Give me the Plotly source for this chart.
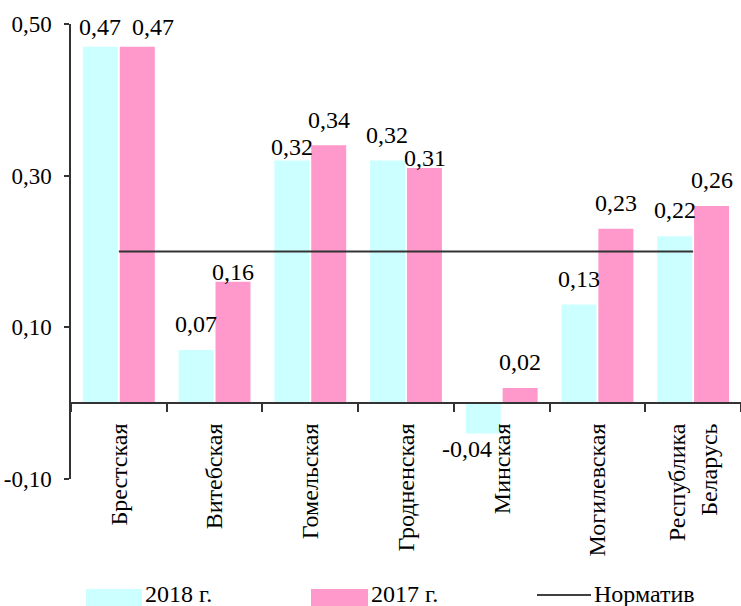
import plotly.graph_objects as go

# ---- data ----
categories = ["Брестская", "Витебская", "Гомельская", "Гродненская",
              "Минская", "Могилевская", "Республика<br>Беларусь"]
values_2018 = [0.47, 0.07, 0.32, 0.32, -0.04, 0.13, 0.22]
values_2017 = [0.47, 0.16, 0.34, 0.31, 0.02, 0.23, 0.26]
norm_values = [0.20, 0.20, 0.20, 0.20, 0.20, 0.20, 0.20]
y_tick_values = [-0.10, 0.10, 0.30, 0.50]
y_tick_labels = ["-0,10", "0,10", "0,30", "0,50"]
series_names = ["2018 г.", "2017 г.", "Норматив"]

# ---- style ----
W, H = 741, 606
ML, MR, MT, MB = 71, 0, 24, 127
FONT = "Liberation Serif"
C18 = "#CCFFFF"
C17 = "#FF99CC"
CLINE = "#333333"
FS = 24

# label placement nudges (pixels): vertical distance of label centre from bar end,
# horizontal nudge from bar centre
label_dy_2018 = [22, 28, 16, 28, -13, 28, 28]
label_dy_2017 = [22, 12, 27, 12, 28, 28, 28]
label_dx_2018 = [0, 0, 0, 0, -16, 0, 0]
label_dx_2017 = [16, 0, 0, 0, 0, 0, 0]


def fmt(v):
    return f"{v:.2f}".replace(".", ",")


def px_x(p):
    return (p - ML) / (W - ML - MR)


def px_y(p):
    return (H - MB - p) / (H - MT - MB)


fig = go.Figure()
fig.add_trace(go.Bar(x=categories, y=values_2018, name=series_names[0],
                     marker=dict(color=C18, line=dict(width=0))))
fig.add_trace(go.Bar(x=categories, y=values_2017, name=series_names[1],
                     marker=dict(color=C17, line=dict(width=0))))
fig.add_trace(go.Scatter(x=categories, y=norm_values, name=series_names[2],
                         mode="lines", line=dict(color=CLINE, width=2.2)))

annotations = []
slot_off = 18.6
for vals, sgn, dys, dxs in ((values_2018, -1, label_dy_2018, label_dx_2018),
                            (values_2017, 1, label_dy_2017, label_dx_2017)):
    for c, v, dy, dx in zip(categories, vals, dys, dxs):
        annotations.append(dict(x=c, y=v, text=fmt(v), showarrow=False,
                                xshift=sgn * slot_off + dx, yshift=dy - 2,
                                yanchor="middle", xanchor="center",
                                font=dict(family=FONT, size=FS, color="black")))

# custom legend
shapes = []
leg_y = 595
items = [(86, 142, C18, "rect", series_names[0]),
         (311, 368, C17, "rect", series_names[1]),
         (537, 591, CLINE, "line", series_names[2])]
for x0, x1, col, kind, name in items:
    if kind == "rect":
        shapes.append(dict(type="rect", xref="paper", yref="paper",
                           x0=px_x(x0), x1=px_x(x1),
                           y0=px_y(589), y1=px_y(607),
                           fillcolor=col, line=dict(width=0), layer="above"))
    else:
        shapes.append(dict(type="line", xref="paper", yref="paper",
                           x0=px_x(x0), x1=px_x(x1),
                           y0=px_y(leg_y), y1=px_y(leg_y),
                           line=dict(color="black", width=1.5)))
    annotations.append(dict(xref="paper", yref="paper", x=px_x(x1 + 1),
                            y=px_y(leg_y - 1), text=name, showarrow=False,
                            xanchor="left", yanchor="middle",
                            font=dict(family=FONT, size=FS, color="black")))

fig.update_layout(
    width=W, height=H,
    margin=dict(l=ML, r=MR, t=MT, b=MB, pad=0, autoexpand=False),
    paper_bgcolor="white", plot_bgcolor="white",
    barmode="group", bargap=0.23, bargroupgap=0.05,
    showlegend=False,
    font=dict(family=FONT, size=FS, color="black"),
    annotations=annotations, shapes=shapes,
    xaxis=dict(type="category", anchor="free", position=1 / 6,
               range=[-0.5, 6.5], automargin=False,
               showline=True, linecolor=CLINE, linewidth=1.5,
               ticks="outside", tickson="boundaries", ticklen=8,
               tickcolor=CLINE, tickwidth=1.5,
               tickangle=-90, ticklabelstandoff=10,
               tickfont=dict(family=FONT, size=FS, color="black"),
               showgrid=False, zeroline=False),
    yaxis=dict(range=[-0.10, 0.50], tickvals=y_tick_values,
               ticktext=y_tick_labels, automargin=False,
               showline=True, linecolor=CLINE, linewidth=1.5,
               ticks="outside", ticklen=5, tickcolor=CLINE, tickwidth=1.5,
               ticklabelstandoff=8,
               tickfont=dict(family=FONT, size=23, color="black"),
               showgrid=False, zeroline=False),
)
for tr in fig.data:
    tr.cliponaxis = False

fig.write_html("out.html", config={"displayModeBar": False})

# remove default page margin so the figure sits at the window origin
with open("out.html", "r", encoding="utf-8") as f:
    html = f.read()
html = html.replace("<head>", "<head><style>html,body{margin:0;padding:0;overflow:hidden;}</style>", 1)
with open("out.html", "w", encoding="utf-8") as f:
    f.write(html)
